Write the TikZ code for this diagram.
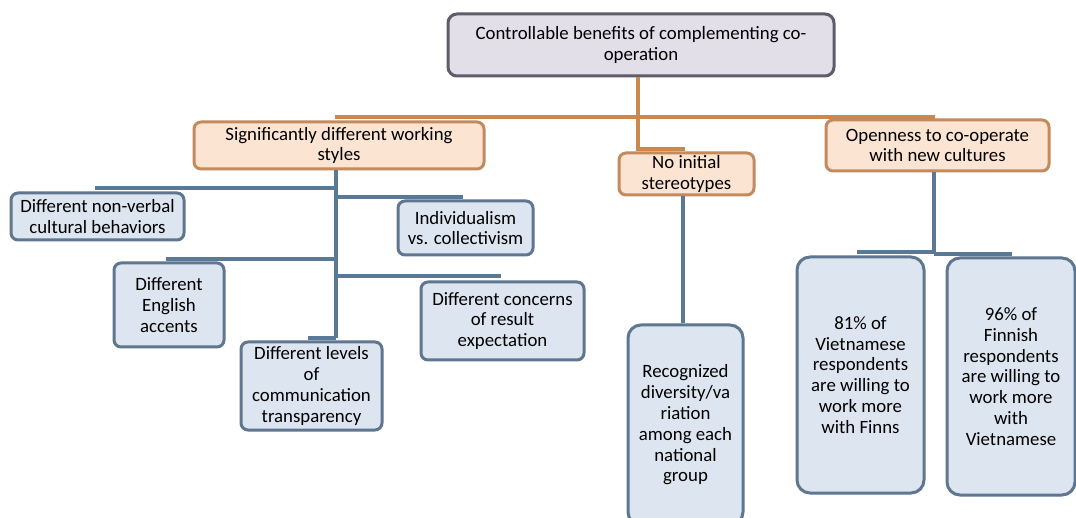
\documentclass[tikz,border=0pt]{standalone}
\usepackage{fontspec}
\setmainfont{Carlito}
\definecolor{topfill}{HTML}{E2DFE9}
\definecolor{topdraw}{HTML}{5F5C6B}
\definecolor{orfill}{HTML}{FBE4D2}
\definecolor{ordraw}{HTML}{C38A5E}
\definecolor{orline}{HTML}{C98850}
\definecolor{blfill}{HTML}{DCE5F0}
\definecolor{bldraw}{HTML}{5E7690}
\definecolor{blline}{HTML}{5A7996}
\tikzset{
  box/.style={rectangle, rounded corners=7pt, line width=3pt, inner sep=0pt,
    align=center, font=\fontsize{18.8}{20.8}\selectfont},
  topbox/.style={box, fill=topfill, draw=topdraw, rounded corners=9pt},
  orbox/.style={box, fill=orfill, draw=ordraw},
  blbox/.style={box, fill=blfill, draw=bldraw},
  tallbox/.style={blbox, rounded corners=13pt},
  orconn/.style={draw=orline, line width=3.2pt},
  blconn/.style={draw=blline, line width=3.2pt},
}
\begin{document}
\begin{tikzpicture}[x=1pt, y=-1pt]
\useasboundingbox[fill=white] (0,0) rectangle (1076,518);

% level 0
\node[topbox, minimum width=386pt, minimum height=62pt] (top) at (641,45)
  {Controllable benefits of complementing co-\\operation};

% level 1
\node[orbox, minimum width=290pt, minimum height=47pt] (sig) at (339,145.5)
  {Significantly different working\\styles};
\node[orbox, minimum width=135pt, minimum height=42pt] (noi) at (686.5,174)
  {No initial\\stereotypes};
\node[orbox, minimum width=223pt, minimum height=51pt] (open) at (937.5,145.5)
  {Openness to co-operate\\with new cultures};

% level 2 under working styles
\node[blbox, minimum width=173pt, minimum height=47pt] (nv) at (97.5,216.5)
  {Different non-verbal\\cultural behaviors};
\node[blbox, minimum width=135pt, minimum height=54pt] (ind) at (465.5,228)
  {Individualism\\vs. collectivism};
\node[blbox, minimum width=110pt, minimum height=84pt] (eng) at (169,305)
  {Different\\English\\accents};
\node[blbox, minimum width=163pt, minimum height=78pt] (con) at (502.5,321)
  {Different concerns\\of result\\expectation};
\node[blbox, minimum width=141pt, minimum height=88pt] (lev) at (311.5,386)
  {Different levels\\of\\communication\\transparency};

% level 2 under stereotypes and openness
\node[tallbox, minimum width=115pt, minimum height=200pt] (rec) at (685.5,425)
  {Recognized\\diversity/va\\riation\\among each\\national\\group};
\node[tallbox, minimum width=127pt, minimum height=236pt] (p81) at (860.5,375)
  {81\% of\\Vietnamese\\respondents\\are willing to\\work more\\with Finns};
\node[tallbox, minimum width=128pt, minimum height=237pt] (p96) at (1011,376.5)
  {96\% of\\Finnish\\respondents\\are willing to\\work more\\with\\Vietnamese};

% orange branch from the root
\coordinate (barL) at (335,117);
\coordinate (barR) at (935,117);
\coordinate (barM) at (638,117);
\coordinate (noiL) at (638,149);
\coordinate (noiR) at (685,149);
\draw[orconn] (top.south -| barM) -- (barM);
\draw[orconn] (barL) -- (barR);
\draw[orconn] (barM) -- (noiL) -- (noiR);

% blue branches under working styles
\coordinate (spineEnd) at (336,338);
\coordinate (nvL) at (95,188);   \coordinate (nvR) at (336,188);
\coordinate (indL) at (336,197); \coordinate (indR) at (463,197);
\coordinate (engL) at (166,259); \coordinate (engR) at (336,259);
\coordinate (conL) at (336,276); \coordinate (conR) at (501,276);
\coordinate (levL) at (308,338);
\draw[blconn] (sig.south -| spineEnd) -- (spineEnd);
\draw[blconn] (nvL) -- (nvR);
\draw[blconn] (indL) -- (indR);
\draw[blconn] (engL) -- (engR);
\draw[blconn] (conL) -- (conR);
\draw[blconn] (levL) -- (spineEnd);

% blue branch under stereotypes
\draw[blconn] (noi.south -| 683,0) -- (rec.north -| 683,0);

% blue branch under openness
\coordinate (opJ) at (934,253);
\coordinate (opL) at (857,252);
\coordinate (opR) at (1012,254);
\draw[blconn] (open.south -| opJ) -- (opJ);
\draw[blconn] (opL) -- (opJ |- opL);
\draw[blconn] (opJ |- opR) -- (opR);
\end{tikzpicture}
\end{document}
